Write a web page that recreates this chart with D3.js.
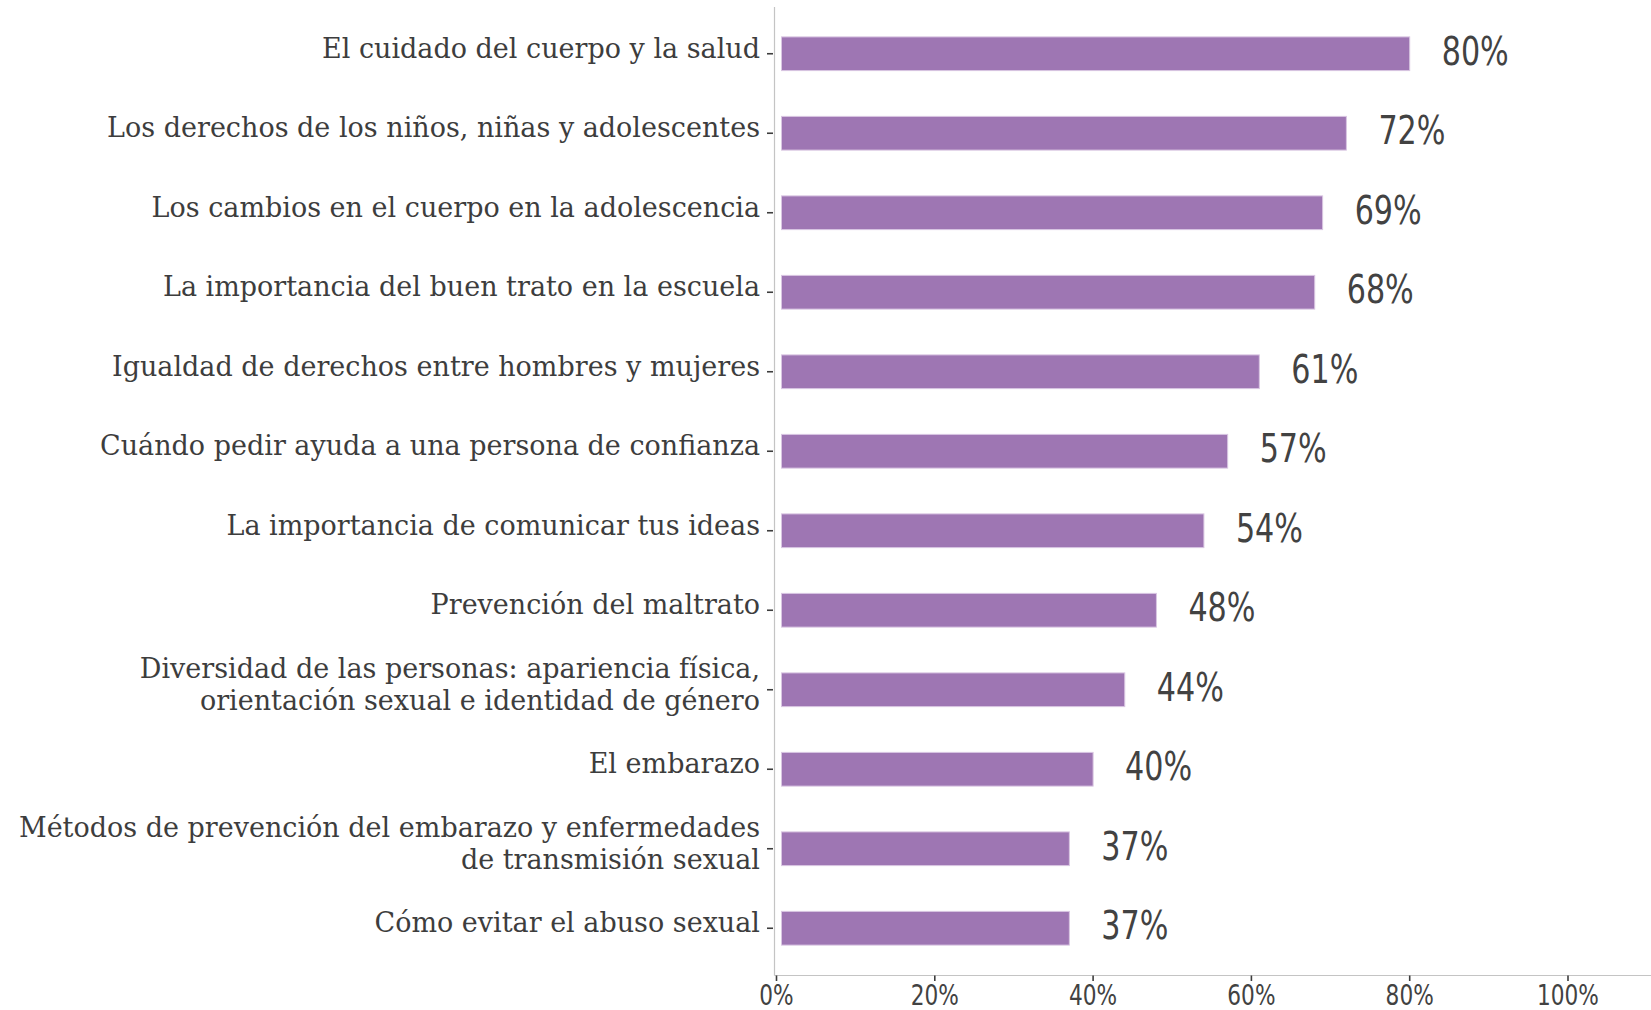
<!DOCTYPE html>
<html>
<head>
<meta charset="utf-8">
<script src="https://cdn.jsdelivr.net/npm/d3@7"></script>
<style>
  body { margin: 0; background: #fff; }
  .ylab { font-family: "DejaVu Serif", serif; fill: #3d3d3d; }
  .val, .xtick { font-family: "DejaVu Sans Condensed", "DejaVu Sans", sans-serif; font-stretch: condensed; fill: #424242; }
</style>
</head>
<body>
<div id="content"></div>
<script>
"use strict";

var categories = [
  "El cuidado del cuerpo y la salud",
  "Los derechos de los niños, niñas y adolescentes",
  "Los cambios en el cuerpo en la adolescencia",
  "La importancia del buen trato en la escuela",
  "Igualdad de derechos entre hombres y mujeres",
  "Cuándo pedir ayuda a una persona de confianza",
  "La importancia de comunicar tus ideas",
  "Prevención del maltrato",
  "Diversidad de las personas: apariencia física,\norientación sexual e identidad de género",
  "El embarazo",
  "Métodos de prevención del embarazo y enfermedades\nde transmisión sexual",
  "Cómo evitar el abuso sexual"
];
var values = [80, 72, 69, 68, 61, 57, 54, 48, 44, 40, 37, 37];
var xTicks = [0, 20, 40, 60, 80, 100];

var width = 1651;
var height = 1010;

var svg = d3.select('#content').append('svg')
  .attr('width', width)
  .attr('height', height);

var x = d3.scaleLinear().domain([0, 100]).range([776.5, 1568]);
var y = d3.scalePoint().domain(d3.range(categories.length)).range([7, 975]).padding(0.588);
var barH = y.step() * 0.424;
var axisX = 774.5, axisY = 975.5;

// axis lines
svg.append('line')
  .attr('x1', axisX).attr('x2', axisX)
  .attr('y1', 7).attr('y2', axisY)
  .attr('stroke', '#c4c4c4').attr('stroke-width', 1.2);
svg.append('line')
  .attr('x1', axisX).attr('x2', width)
  .attr('y1', axisY).attr('y2', axisY)
  .attr('stroke', '#c4c4c4').attr('stroke-width', 1.2);

// bars
svg.selectAll('rect.bar')
  .data(values).enter()
  .append('rect')
  .attr('class', 'bar')
  .attr('x', x(0) + 5)
  .attr('y', function(d, i) { return y(i) - barH / 2; })
  .attr('width', function(d) { return x(d) - x(0) - 5; })
  .attr('height', barH)
  .attr('fill', '#9e76b3')
  .attr('stroke', '#d9c6e2')
  .attr('stroke-width', 1);

// value labels (narrowed a bit to look like the condensed face)
svg.selectAll('text.val')
  .data(values).enter()
  .append('text')
  .attr('class', 'val')
  .attr('transform', function(d, i) {
    return 'translate(' + (x(d) + 32) + ',' + (y(i) + 11) + ') scale(0.86,1)';
  })
  .style('font-size', '39px')
  .text(function(d) { return d + '%'; });

// y ticks + labels
var yg = svg.selectAll('g.ycat')
  .data(categories).enter()
  .append('g')
  .attr('class', 'ycat')
  .attr('transform', function(d, i) { return 'translate(0,' + y(i) + ')'; });
yg.append('line')
  .attr('x1', 767).attr('x2', 773)
  .attr('stroke', '#3d3d3d').attr('stroke-width', 1.6);
yg.each(function(d) {
  var lines = d.split('\n');
  var t = d3.select(this).append('text')
    .attr('class', 'ylab')
    .attr('text-anchor', 'end')
    .style('font-size', '27px');
  lines.forEach(function(l, k) {
    t.append('tspan')
      .attr('x', 760)
      .attr('y', 4 + (k - (lines.length - 1) / 2) * 31.5)
      .text(l);
  });
});

// x ticks
var xg = svg.selectAll('g.xt')
  .data(xTicks).enter()
  .append('g')
  .attr('class', 'xt')
  .attr('transform', function(d) { return 'translate(' + x(d) + ',0)'; });
xg.append('line')
  .attr('y1', axisY).attr('y2', 981)
  .attr('stroke', '#3d3d3d').attr('stroke-width', 1.6);
xg.append('text')
  .attr('class', 'xtick')
  .attr('text-anchor', 'middle')
  .attr('transform', 'translate(0,1005) scale(0.86,1)')
  .style('font-size', '28px')
  .text(function(d) { return d + '%'; });
</script>
</body>
</html>
